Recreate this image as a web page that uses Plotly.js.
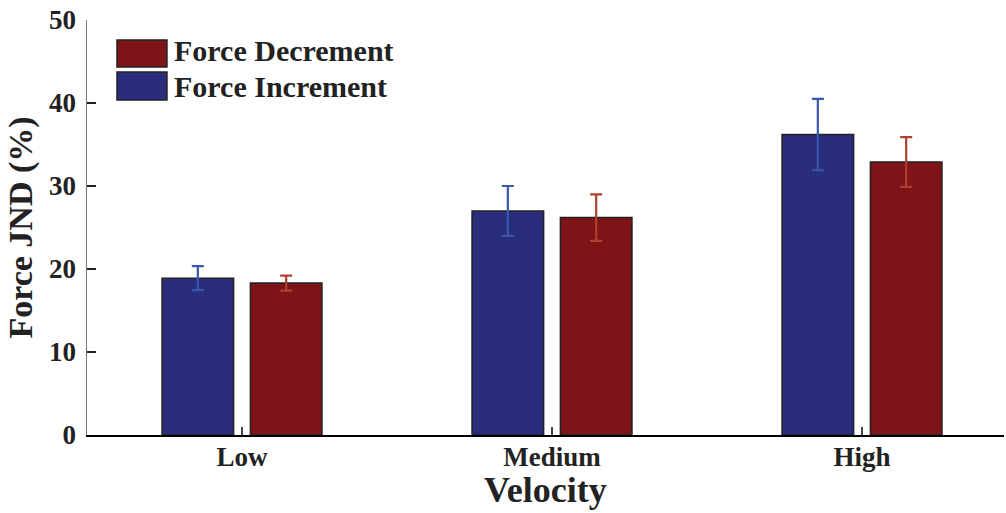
<!DOCTYPE html>
<html>
<head>
<meta charset="utf-8">
<script src="https://cdn.plot.ly/plotly-3.0.1.min.js"></script>
<style>html,body{margin:0;padding:0;background:#fff;}#chart{width:1006px;height:513px;}</style>
</head>
<body>
<div id="chart"></div>
<script>
const categories = ["Low", "Medium", "High"];
const seriesNames = ["Force Increment", "Force Decrement"];
const incrementValues = [18.9, 27.0, 36.2];
const incrementErrors = [1.45, 3.0, 4.3];
const decrementValues = [18.3, 26.2, 32.9];
const decrementErrors = [0.9, 2.8, 3.0];
const yTickValues = [0, 10, 20, 30, 40, 50];
const xTitle = "Velocity";
const yTitle = "Force JND (%)";

const FONT = "Liberation Serif, Times New Roman, serif";
const blue = "#2a2c7c";
const red = "#7e1318";

const traces = [
  {
    type: "bar", name: seriesNames[0], x: categories, y: incrementValues,
    marker: {color: blue, line: {color: "#222", width: 1.5}},
    error_y: {type: "data", array: incrementErrors, visible: true, color: "#3b57ad", thickness: 2.2, width: 6},
    showlegend: false
  },
  {
    type: "bar", name: seriesNames[1], x: categories, y: decrementValues,
    marker: {color: red, line: {color: "#222", width: 1.5}},
    error_y: {type: "data", array: decrementErrors, visible: true, color: "#b0402e", thickness: 2.2, width: 6},
    showlegend: false
  }
];

// manual legend (Decrement first, then Increment)
const L = {x0: 0.0327, x1: 0.0872, tx: 0.0927};
const legendRows = [
  {name: seriesNames[1], color: red, y0: 0.8867, y1: 0.9518, ty: 0.9277},
  {name: seriesNames[0], color: blue, y0: 0.8072, y1: 0.8747, ty: 0.8386}
];
const shapes = legendRows.map(r => ({
  type: "rect", xref: "paper", yref: "paper", x0: L.x0, x1: L.x1, y0: r.y0, y1: r.y1,
  fillcolor: r.color, line: {color: "#222", width: 1.5}
}));
const annotations = legendRows.map(r => ({
  xref: "paper", yref: "paper", x: L.tx, y: r.ty, xanchor: "left", yanchor: "middle",
  text: "<b>" + r.name + "</b>", showarrow: false,
  font: {family: FONT, size: 30, color: "#222"}
}));
// x-axis title placed as annotation below tick labels
annotations.push({
  xref: "paper", yref: "paper", x: 0.5, y: -0.1325, xanchor: "center", yanchor: "middle",
  text: "<b>" + xTitle + "</b>", showarrow: false,
  font: {family: FONT, size: 36, color: "#222"}
});

const layout = {
  width: 1006, height: 513,
  margin: {l: 87, r: 2, t: 20, b: 78, pad: 0},
  paper_bgcolor: "#fff", plot_bgcolor: "#fff",
  barmode: "group", bargap: 0.43, bargroupgap: 0.19,
  xaxis: {
    range: [-0.5, 2.458], type: "category",
    showline: true, linecolor: "#000", linewidth: 1.5,
    ticks: "inside", ticklen: 8, tickcolor: "#444", tickwidth: 1.5,
    showgrid: false, zeroline: false,
    tickfont: {family: FONT, size: 27, color: "#222", weight: "bold"},
    ticklabelstandoff: -3,
    automargin: false
  },
  yaxis: {
    range: [0, 50], tickvals: yTickValues, ticktext: yTickValues.map(v => "<b>" + v + "</b>"),
    showline: true, linecolor: "#777", linewidth: 1.5,
    ticks: "inside", ticklen: 9, tickcolor: "#222", tickwidth: 1.5,
    showgrid: false, zeroline: false,
    tickfont: {family: FONT, size: 27, color: "#222"},
    ticklabelstandoff: 4,
    title: {text: "<b>" + yTitle + "</b>", font: {family: FONT, size: 34, color: "#222"}, standoff: 6},
    automargin: false
  },
  shapes: shapes,
  annotations: annotations,
  showlegend: false
};

Plotly.newPlot("chart", traces, layout, {displayModeBar: false, staticPlot: true});
</script>
</body>
</html>
